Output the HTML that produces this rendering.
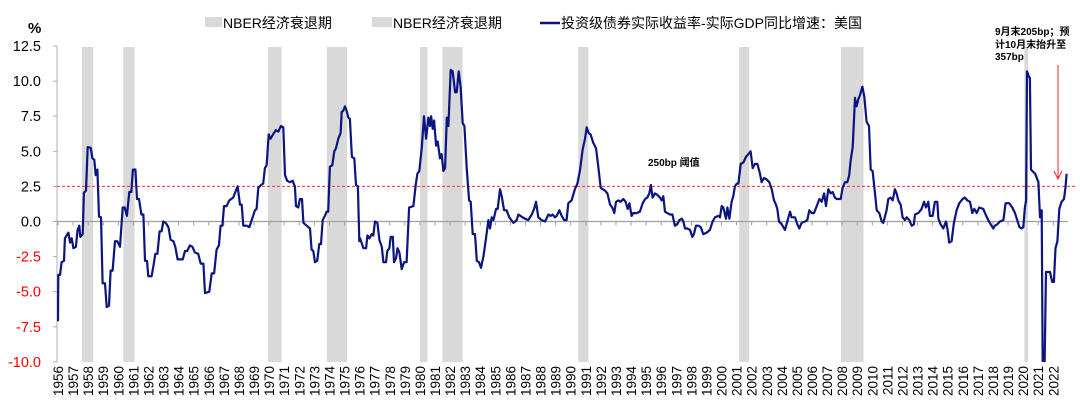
<!DOCTYPE html>
<html><head><meta charset="utf-8"><style>
html,body{margin:0;padding:0;background:#fff;}
svg{display:block;font-family:"Liberation Sans","Noto Sans CJK SC",sans-serif;}
</style></head><body>
<svg id="chart" width="1080" height="415" viewBox="0 0 1080 415">
<defs><clipPath id="plotClip"><rect x="57" y="46" width="1020" height="316"/></clipPath></defs>
<g id="bands"></g>
<g id="yaxis"></g>
<g id="xaxis"></g>
<line id="thresh" stroke="#ff3030" stroke-width="1" stroke-dasharray="3,2"/>
<path id="series" fill="none" stroke="#0a1580" stroke-width="2.2" stroke-linejoin="round" clip-path="url(#plotClip)"/>
<text x="28" y="33" font-size="15" font-weight="bold" fill="#000">%</text>
<g>
<rect x="205" y="17" width="17" height="10" fill="#d9d9d9"/>
<text x="223" y="28" font-size="14" fill="#000">NBER经济衰退期</text>
<rect x="372" y="17" width="20" height="10" fill="#d9d9d9"/>
<text x="393" y="28" font-size="14" fill="#000">NBER经济衰退期</text>
<line x1="540" y1="23" x2="560" y2="23" stroke="#0a1580" stroke-width="2.5"/>
<text x="561" y="28" font-size="14" fill="#000">投资级债券实际收益率-实际GDP同比增速：美国</text>
</g>
<text x="648" y="166" font-size="10" font-weight="bold" fill="#000">250bp 阈值</text>
<g font-size="10" font-weight="bold" fill="#000">
<text x="995" y="35">9月末205bp；预</text>
<text x="995" y="48">计10月末抬升至</text>
<text x="995" y="60">357bp</text>
</g>
<line x1="1058" y1="65" x2="1058" y2="178" stroke="#ff2020" stroke-width="1"/>
<path d="M1054,171 L1058,179 L1062,171" fill="none" stroke="#ff2020" stroke-width="1"/>
</svg>
<script>
const recStart=[1957.58,1960.33,1969.92,1973.83,1980.0,1981.5,1990.5,2001.17,2007.92,2020.08];
const recEnd=[1958.33,1961.08,1970.83,1975.17,1980.5,1982.83,1991.17,2001.83,2009.42,2020.33];
const yTicks=[12.5,10,7.5,5,2.5,0,-2.5,-5,-7.5,-10];
const threshold=2.5;
const dates=[1956.0,1956.02,1956.13,1956.24,1956.40,1956.46,1956.69,1956.80,1956.91,1957.02,1957.19,1957.30,1957.41,1957.48,1957.64,1957.72,1957.86,1957.97,1958.17,1958.28,1958.41,1958.50,1958.61,1958.72,1958.85,1958.96,1959.12,1959.23,1959.38,1959.49,1959.62,1959.78,1959.93,1960.11,1960.29,1960.42,1960.57,1960.73,1960.86,1960.97,1961.13,1961.24,1961.37,1961.53,1961.66,1961.77,1961.90,1961.99,1962.21,1962.34,1962.45,1962.59,1962.74,1962.87,1962.98,1963.14,1963.32,1963.47,1963.65,1963.78,1963.93,1964.27,1964.42,1964.57,1964.75,1964.91,1965.08,1965.30,1965.46,1965.64,1965.75,1966.03,1966.19,1966.35,1966.52,1966.67,1966.78,1966.90,1967.01,1967.18,1967.36,1967.62,1967.80,1967.91,1968.07,1968.18,1968.29,1968.51,1968.69,1968.88,1969.06,1969.17,1969.28,1969.46,1969.61,1969.72,1969.83,1969.97,1970.10,1970.32,1970.45,1970.61,1970.78,1970.94,1971.05,1971.20,1971.38,1971.56,1971.71,1971.78,1971.93,1972.04,1972.18,1972.27,1972.49,1972.71,1972.82,1972.93,1973.04,1973.19,1973.33,1973.44,1973.55,1973.70,1973.81,1973.92,1974.03,1974.19,1974.32,1974.43,1974.59,1974.74,1974.81,1974.92,1975.03,1975.14,1975.25,1975.36,1975.49,1975.65,1975.76,1975.89,1975.98,
1976.03,1976.25,1976.43,1976.52,1976.65,1976.80,1976.91,1977.02,1977.18,1977.31,1977.47,1977.58,1977.75,1977.84,1977.97,1978.06,1978.20,1978.28,1978.42,1978.51,1978.64,1978.79,1978.95,1979.12,1979.28,1979.57,1979.72,1979.83,1979.96,1980.12,1980.27,1980.41,1980.56,1980.67,1980.74,1980.85,1980.94,1981.07,1981.18,1981.33,1981.44,1981.56,1981.67,1981.78,1981.89,1982.04,1982.17,1982.33,1982.44,1982.57,1982.70,1982.84,1982.95,1983.10,1983.26,1983.37,1983.50,1983.65,1983.77,1983.92,1984.05,1984.21,1984.38,1984.54,1984.65,1984.76,1984.87,1985.05,1985.16,1985.31,1985.42,1985.58,1985.75,1985.93,1986.20,1986.42,1986.53,1986.81,1986.97,1987.19,1987.41,1987.57,1987.70,1987.85,1988.07,1988.30,1988.52,1988.67,1988.80,1988.96,1989.07,1989.25,1989.40,1989.56,1989.73,1989.84,1990.06,1990.28,1990.44,1990.62,1990.79,1990.95,1991.06,1991.19,1991.32,1991.50,1991.68,1991.83,1991.99,1992.12,1992.27,1992.43,1992.61,1992.76,1992.89,1993.00,1993.16,1993.31,1993.49,1993.64,1993.78,1993.89,1994.04,1994.15,1994.37,1994.59,1994.77,1994.93,1995.08,1995.21,1995.32,1995.43,1995.59,1995.74,1995.92,1996.03,1996.14,1996.25,1996.41,1996.58,1996.74,1996.91,1997.07,1997.20,1997.36,1997.47,1997.58,1997.73,1997.91,1998.06,1998.17,1998.31,1998.46,1998.62,1998.79,1999.01,1999.23,1999.41,1999.57,1999.79,
1999.90,2000.01,2000.12,2000.30,2000.39,2000.52,2000.67,2000.78,2000.89,2001.01,2001.12,2001.27,2001.45,2001.62,2001.78,2001.93,2002.07,2002.22,2002.38,2002.55,2002.66,2002.82,2002.99,2003.17,2003.33,2003.48,2003.61,2003.70,2003.81,2003.99,2004.21,2004.36,2004.54,2004.65,2004.87,2005.03,2005.16,2005.31,2005.54,2005.69,2005.82,2005.98,2006.13,2006.31,2006.49,2006.64,2006.80,2006.93,2007.08,2007.24,2007.37,2007.52,2007.64,2007.90,2008.03,2008.19,2008.34,2008.47,2008.56,2008.70,2008.85,2008.96,2009.07,2009.18,2009.34,2009.47,2009.62,2009.78,2009.89,2010.02,2010.18,2010.29,2010.46,2010.62,2010.73,2010.95,2011.06,2011.22,2011.35,2011.50,2011.61,2011.72,2011.88,2012.01,2012.17,2012.28,2012.45,2012.61,2012.76,2012.83,2013.05,2013.27,2013.43,2013.56,2013.71,2013.82,2014.00,2014.15,2014.31,2014.38,2014.53,2014.71,2014.88,2014.99,2015.10,2015.26,2015.41,2015.59,2015.77,2015.99,2016.14,2016.30,2016.48,2016.63,2016.76,2016.92,2017.09,2017.36,2017.51,2017.69,2017.85,2018.02,2018.13,2018.29,2018.46,2018.69,2018.84,2019.08,2019.28,2019.46,2019.61,2019.75,2019.90,2020.01,2020.12,2020.20,2020.26,2020.36,2020.45,2020.52,2020.80,2021.01,2021.12,2021.23,2021.30,2021.42,2021.52,2021.78,2021.93,2022.04,2022.15,2022.27,2022.40,2022.55,2022.71,2022.82,2022.88];
const values=[-7.1,-3.8,-3.8,-2.9,-2.8,-1.2,-0.8,-1.5,-1.2,-1.9,-1.8,-0.6,-0.3,-1.1,-0.9,2.05,2.2,5.3,5.25,4.5,4.4,3.3,3.7,0.35,0.3,-4.4,-4.4,-6.1,-6.0,-3.5,-3.5,-1.4,-1.4,-1.8,1.0,1.0,0.4,2.1,2.1,3.7,3.7,1.6,1.6,0.5,0.5,-2.8,-2.8,-3.9,-3.9,-3.1,-2.3,-2.3,-0.7,-0.7,0.0,-0.1,-0.4,-1.3,-1.4,-1.8,-2.7,-2.7,-2.1,-2.1,-1.7,-1.8,-2.2,-2.3,-3.0,-3.0,-5.1,-5.0,-3.7,-3.7,-2.0,-1.7,-0.3,-0.3,1.1,1.1,1.5,1.7,2.2,2.5,1.2,1.2,-0.3,-0.3,-0.4,0.2,0.8,0.9,2.4,2.6,2.7,3.8,4.0,6.2,5.9,6.3,6.5,6.4,6.8,6.7,3.3,2.9,2.8,2.9,2.5,1.1,1.0,1.6,1.6,-0.1,-0.3,-0.5,-2.0,-2.1,-2.9,-2.8,-1.6,-1.6,0.1,0.4,0.7,0.7,3.9,4.0,5.0,5.2,5.9,6.3,7.8,7.9,8.2,7.9,7.4,7.3,4.6,4.5,2.6,2.5,-1.4,
-1.2,-1.9,-1.9,-1.0,-1.2,-0.9,-1.0,0.0,-0.1,-1.3,-1.8,-2.9,-2.9,-2.1,-1.9,-1.1,-1.1,-2.9,-2.6,-1.9,-2.2,-3.4,-2.9,-2.9,1.0,1.1,2.6,3.4,3.6,5.2,7.5,5.9,7.4,6.8,7.5,6.6,7.2,5.4,5.7,4.5,4.8,3.6,3.8,7.4,6.8,10.8,10.7,9.2,9.2,10.7,9.6,7.0,6.8,3.8,1.5,1.4,-0.9,-0.9,-2.8,-2.9,-3.3,-2.5,-1.2,0.1,-0.5,0.3,0.1,0.9,0.9,2.3,1.8,0.8,0.8,0.3,-0.1,0.1,0.5,0.3,0.2,0.1,0.5,0.9,1.4,0.3,0.1,0.0,0.5,0.4,0.5,0.3,0.4,0.8,0.4,0.1,0.1,1.3,1.5,2.3,2.7,3.7,5.1,5.9,6.7,6.3,6.2,5.6,5.2,3.9,2.4,2.3,2.2,2.0,1.2,1.0,0.6,1.4,1.5,1.4,1.6,1.4,0.9,1.3,0.4,0.6,0.6,0.7,1.3,1.6,1.7,2.0,2.6,1.7,2.0,1.9,1.7,1.5,1.8,0.7,0.6,0.5,0.5,-0.3,-0.2,0.1,0.2,0.0,-0.5,-0.5,-0.6,-1.1,-0.9,-0.3,-0.3,-0.4,-0.9,-0.8,-0.6,0.0,0.3,0.4,
0.3,1.1,1.0,0.2,1.0,0.2,1.4,1.8,2.5,2.7,2.7,4.1,4.2,4.6,4.8,5.0,3.8,4.1,4.1,3.4,2.8,3.1,3.0,2.8,2.3,1.5,1.2,0.9,0.0,-0.2,-0.6,0.0,0.7,0.3,0.3,-0.2,-0.5,-0.1,0.0,0.1,0.8,0.6,0.6,1.1,1.6,1.4,2.0,1.1,2.3,2.0,2.1,1.7,1.6,1.6,2.4,2.8,2.8,3.3,4.3,5.3,8.8,8.2,8.7,9.0,9.6,8.9,7.1,6.8,3.7,3.6,2.0,0.8,0.6,0.0,-0.1,0.8,1.6,1.7,1.5,2.3,2.0,1.5,1.2,0.3,0.1,0.3,0.1,-0.3,-0.2,0.5,0.6,0.9,1.4,1.0,1.4,0.4,0.4,1.4,1.4,0.2,-0.2,-0.5,0.0,-0.6,-1.5,-1.4,-0.1,0.8,1.3,1.6,1.7,1.5,1.4,0.6,0.9,0.6,1.0,0.9,0.5,0.1,-0.2,-0.5,-0.3,-0.2,0.0,0.1,1.3,1.3,1.0,0.6,0.1,-0.4,-0.5,-0.4,1.0,1.5,10.7,10.4,10.2,3.7,3.4,2.8,0.3,0.8,-10.5,-10.6,-3.6,-3.6,-4.3,-4.3,-1.9,-1.4,0.9,1.4,1.6,2.5,3.4];
const years=[];for(let y=1956;y<=2022;y++)years.push(y);

const NS='http://www.w3.org/2000/svg';
const X0=58,PXY=15.08,Y0=221.5,PXV=14.04,TOP=46,BOT=362,LEFT=57,RIGHT=1075;
function sx(t){return X0+(t-1956)*PXY;}
function sy(v){return Y0-v*PXV;}
function el(tag,attrs,parent){const e=document.createElementNS(NS,tag);for(const k in attrs)e.setAttribute(k,attrs[k]);parent.appendChild(e);return e;}

const bands=document.getElementById('bands');
for(let i=0;i<recStart.length;i++){
  const r=el('rect',{x:sx(recStart[i]),y:TOP+1,width:sx(recEnd[i])-sx(recStart[i]),height:BOT-TOP-1,fill:'#d9d9d9'},bands);
  
  
}
const ya=document.getElementById('yaxis');
el('line',{x1:LEFT,y1:TOP,x2:LEFT,y2:BOT,stroke:'#b0b0b0','stroke-width':1},ya);
yTicks.forEach(v=>{
  el('line',{x1:LEFT-4,y1:sy(v),x2:LEFT,y2:sy(v),stroke:'#b0b0b0'},ya);
  const t=el('text',{x:LEFT-16,y:sy(v)+5,'text-anchor':'end','font-size':14.5,fill:v<0?'#ff0000':'#000'},ya);
  t.textContent=v.toFixed(1);
  
  
});
const xa=document.getElementById('xaxis');
el('line',{x1:LEFT,y1:sy(0),x2:RIGHT-7,y2:sy(0),stroke:'#a0a0a0','stroke-width':1.2},xa);
years.forEach(y=>{
  const x=sx(y);
  el('line',{x1:x,y1:sy(0),x2:x,y2:sy(0)+4,stroke:'#a0a0a0'},xa);
  const t=el('text',{x:0,y:0,'text-anchor':'end','font-size':13.5,fill:'#000',transform:'translate('+(x+5)+',366) rotate(-90)'},xa);
  t.textContent=y;
  
  
});
const th=document.getElementById('thresh');
th.setAttribute('x1',LEFT);th.setAttribute('x2',RIGHT);th.setAttribute('y1',sy(threshold));th.setAttribute('y2',sy(threshold));
let d='';
for(let i=0;i<dates.length;i++){d+=(i?'L':'M')+sx(dates[i]).toFixed(1)+','+sy(values[i]).toFixed(1);}
document.getElementById('series').setAttribute('d',d);
</script>
</body></html>
